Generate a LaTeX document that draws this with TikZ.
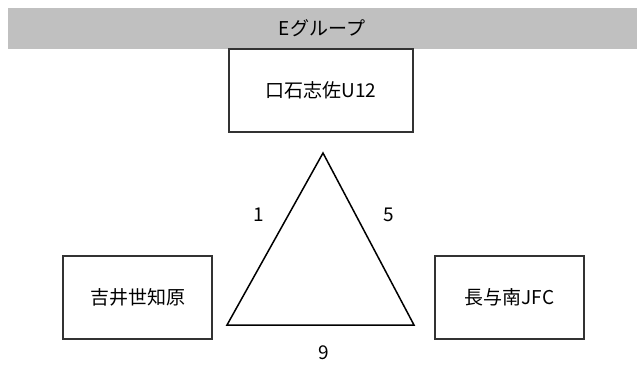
\documentclass[tikz,border=0pt]{standalone}
\usepackage{fontspec}
\setmainfont{Noto Sans CJK JP}
\usepackage{xcolor}
\definecolor{headgray}{HTML}{C0C0C0}
\definecolor{boxline}{HTML}{333333}

\begin{document}
\begin{tikzpicture}[x=1pt,y=-1pt,
  every node/.style={font=\fontsize{19}{22}\selectfont},
  team/.style={draw=boxline,line width=2pt,minimum height=83pt,inner sep=0pt},
  score/.style={inner sep=0pt}]
\useasboundingbox (0,0) rectangle (637,376);
\fill[headgray] (8,8) rectangle (637,49);
\draw (322,28) node[score](title) {Eグループ};
\draw (321,90.5) node[team,minimum width=184pt](kuchi) {口石志佐U12};
\draw (137.5,297.5) node[team,minimum width=149pt](yoshii) {吉井世知原};
\draw (509.5,297.5) node[team,minimum width=149pt](nagayo) {長与南JFC};
\coordinate (top) at (323,153);
\coordinate (left) at (227,325);
\coordinate (right) at (414,325);
\draw[line width=1.5pt,line join=miter] (top) -- (left) -- (right) -- cycle;
\draw (259,215) node[score](one) {1};
\draw (389,215) node[score](five) {5};
\draw (324,353) node[score](nine) {9};
\end{tikzpicture}
\end{document}
